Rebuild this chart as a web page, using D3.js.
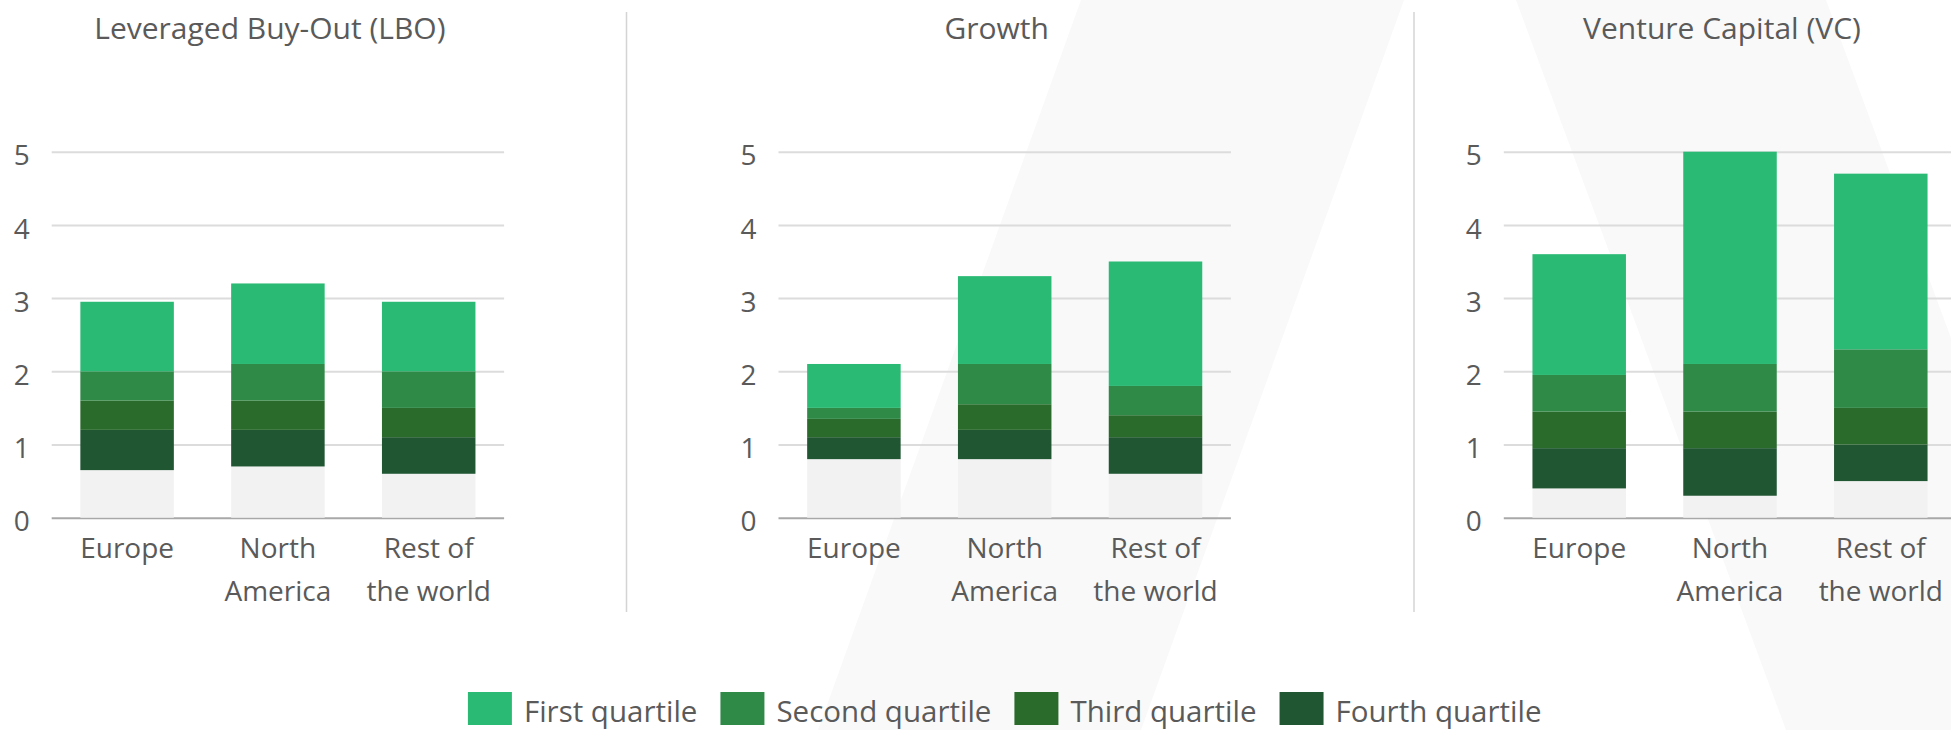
<!DOCTYPE html>
<html>
<head>
<meta charset="utf-8">
<script src="https://cdn.jsdelivr.net/npm/d3@7"></script>
<style>
  body { margin: 0; background: #fff; }
  svg { display: block; font-family: 'Open Sans', sans-serif; }
</style>
</head>
<body>
<div id="viz"></div>
<script>
const width = 1951;
const height = 730;

// Data
const strategies = ['Leveraged Buy-Out (LBO)', 'Growth', 'Venture Capital (VC)'];
const regions = ['Europe', 'North America', 'Rest of the world'];
const regionLines = [['Europe'], ['North', 'America'], ['Rest of', 'the world']];
const quartiles = ['First quartile', 'Second quartile', 'Third quartile', 'Fourth quartile'];
const yTicks = [0, 1, 2, 3, 4, 5];

// rows = strategy, cols = region
const minValues = [[0.65, 0.7, 0.6], [0.8, 0.8, 0.6], [0.4, 0.3, 0.5]];
const fourthTop = [[1.2, 1.2, 1.1], [1.1, 1.2, 1.1], [0.95, 0.95, 1.0]];
const thirdTop = [[1.6, 1.6, 1.5], [1.35, 1.55, 1.4], [1.45, 1.45, 1.5]];
const secondTop = [[2.0, 2.1, 2.0], [1.5, 2.1, 1.8], [1.95, 2.1, 2.3]];
const firstTop = [[2.95, 3.2, 2.95], [2.1, 3.3, 3.5], [3.6, 5.0, 4.7]];

const colors = ['#2aba74', '#2f8a48', '#2a6a2b', '#215633'];
const baseColor = '#f2f2f2';
const textColor = '#5a5a5a';

// Layout
const panelX = [51.7, 778.5, 1503.8];
const panelWidth = 452.4;
const dividerX = [626.5, 1414];

const svg = d3.select('#viz')
  .append('svg')
  .attr('width', width)
  .attr('height', height);

// faint background mark
const marks = [
  [[1081, 0], [1404, 0], [1141, 730], [818, 730]],
  [[1516, 0], [1826, 0], [2096, 730], [1786, 730]]
];
svg.append('g')
  .selectAll('path')
  .data(marks)
  .join('path')
    .attr('d', d => d3.line()(d) + 'Z')
    .attr('fill', '#f9f9f9');

// divider lines
svg.selectAll('.divider')
  .data(dividerX)
  .join('line')
    .attr('class', 'divider')
    .attr('x1', d => d).attr('x2', d => d)
    .attr('y1', 12).attr('y2', 612)
    .attr('stroke', '#d4d4d4')
    .attr('stroke-width', 1.5);

const y = d3.scaleLinear()
  .domain([0, 5])
  .range([517.7, 151.7]);

const x = d3.scaleBand()
  .domain(regions)
  .range([0, panelWidth])
  .paddingInner(0.38)
  .paddingOuter(0.19);

strategies.forEach((strategy, si) => {
  const g = svg.append('g')
    .attr('transform', `translate(${panelX[si]}, 0)`);

  // title
  g.append('text')
    .attr('x', panelWidth / 2 - 8)
    .attr('y', 39)
    .attr('text-anchor', 'middle')
    .attr('font-size', 30)
    .attr('fill', textColor)
    .text(strategy);

  // grid + y labels
  const yAxis = g.append('g')
    .call(d3.axisLeft(y).tickValues(yTicks).tickFormat(d3.format('d')).tickSize(-panelWidth).tickPadding(22));
  yAxis.select('.domain').remove();
  yAxis.selectAll('.tick line')
    .attr('stroke', d => d === 0 ? '#a8a8a8' : '#dcdcdc')
    .attr('stroke-width', 2);
  yAxis.selectAll('.tick text')
    .attr('font-size', 28)
    .attr('font-family', 'Open Sans, sans-serif')
    .attr('fill', textColor)
    .attr('dy', '0.47em');

  // stacked segments
  const segments = [];
  regions.forEach((region, ri) => {
    const bounds = [0, minValues[si][ri], fourthTop[si][ri], thirdTop[si][ri], secondTop[si][ri], firstTop[si][ri]];
    const fills = [baseColor, colors[3], colors[2], colors[1], colors[0]];
    for (let k = 0; k < 5; k++) {
      segments.push({region: region, lo: bounds[k], hi: bounds[k + 1], fill: fills[k]});
    }
  });

  g.append('g')
    .selectAll('rect')
    .data(segments)
    .join('rect')
      .attr('x', d => x(d.region))
      .attr('width', x.bandwidth())
      .attr('y', d => y(d.hi))
      .attr('height', d => y(d.lo) - y(d.hi))
      .attr('fill', d => d.fill);

  // x labels
  const xl = g.append('g')
    .selectAll('text')
    .data(regions)
    .join('text')
      .attr('x', d => x(d) + x.bandwidth() / 2)
      .attr('y', 558)
      .attr('text-anchor', 'middle')
      .attr('font-size', 28)
      .attr('fill', textColor);
  xl.selectAll('tspan')
    .data((d, i) => regionLines[i])
    .join('tspan')
      .attr('x', function () { return this.parentNode.getAttribute('x'); })
      .attr('dy', (d, i) => i === 0 ? 0 : 43)
      .text(d => d);
});

// legend
const legend = svg.append('g');
let cursor = 0;
quartiles.forEach((q, i) => {
  const item = legend.append('g').attr('transform', `translate(${cursor}, 0)`);
  item.append('rect')
    .attr('x', 0).attr('y', 692)
    .attr('width', 44).attr('height', 33)
    .attr('fill', colors[i]);
  const t = item.append('text')
    .attr('x', 56).attr('y', 722)
    .attr('font-size', 29.5)
    .attr('fill', textColor)
    .text(q);
  cursor += 56 + t.node().getComputedTextLength() + 23;
});
const legendWidth = cursor - 23;
legend.attr('transform', `translate(${1004.7 - legendWidth / 2}, 0)`);
</script>
</body>
</html>
